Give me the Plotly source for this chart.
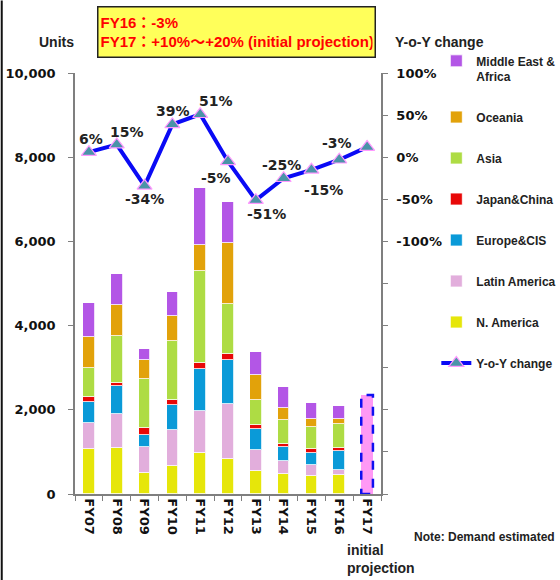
import plotly.graph_objects as go

categories = ["FY07", "FY08", "FY09", "FY10", "FY11", "FY12", "FY13", "FY14", "FY15", "FY16", "FY17"]
actual_years = categories[:10]

n_america = [1060, 1090, 490, 660, 980, 840, 540, 475, 420, 450]
latin_america = [630, 800, 620, 870, 1000, 1290, 505, 310, 270, 125]
europe_cis = [505, 675, 285, 585, 980, 1050, 500, 340, 275, 445]
japan_china = [110, 65, 165, 125, 160, 140, 95, 65, 95, 80]
asia = [695, 1130, 1165, 1385, 2185, 1205, 595, 570, 530, 560]
oceania = [730, 730, 460, 610, 600, 1440, 590, 285, 200, 110]
middle_east_africa = [815, 735, 260, 570, 1375, 975, 545, 490, 365, 310]
fy17_projection = 2350

yoy_change = [6, 15, -34, 39, 51, -5, -51, -25, -15, -3, 12]
yoy_labels = ["6%", "15%", "-34%", "39%", "51%", "-5%", "-51%", "-25%", "-15%", "-3%", ""]

left_ticks = [0, 2000, 4000, 6000, 8000, 10000]
right_ticks = [-400, -350, -300, -250, -200, -150, -100, -50, 0, 50, 100]
right_ticktext = ["", "", "", "", "", "", "-100%", "-50%", "0%", "50%", "100%"]

series = [
    ("N. America", n_america, "#E6E60A", 7),
    ("Latin America", latin_america, "#E2AEDC", 6),
    ("Europe&CIS", europe_cis, "#0A9AD8", 5),
    ("Japan&China", japan_china, "#E80808", 4),
    ("Asia", asia, "#AEDC44", 3),
    ("Oceania", oceania, "#E2A20A", 2),
    ("Middle East &<br>Africa", middle_east_africa, "#B356E6", 1),
]

BW = 0.42
PW, PH = 307, 421.5
ML, MT = 74.5, 72.5
xs = list(range(len(actual_years)))
narrow = "Liberation Sans Narrow, Arial Narrow, Liberation Sans, Arial"
legend_font = dict(family=narrow, size=12, color="#222", weight="bold")


def px_x(p):
    return (p - ML) / PW


def px_y(p):
    return 1 - (p - MT) / PH


fig = go.Figure()
for name, vals, color, rank in series:
    fig.add_trace(go.Bar(
        x=xs, y=vals, name=name, width=BW,
        marker=dict(color=color, line=dict(color="rgba(255,255,255,0.8)", width=1)),
        legendrank=rank, legendgroup=name,
    ))

i17 = categories.index("FY17")
fig.add_trace(go.Bar(
    x=[i17], y=[fy17_projection], width=BW, showlegend=False,
    marker=dict(color="#FF99F5", line=dict(width=0)),
))

fig.add_trace(go.Scatter(
    x=list(range(len(categories))), y=yoy_change, yaxis="y2", name="Y-o-Y change",
    mode="lines+markers",
    line=dict(color="#0A0AF5", width=4, dash="solid"),
    marker=dict(symbol="triangle-up", size=13, color="#4A94A8", line=dict(color="#FF99FF", width=1.2)),
    legendrank=8, legendgroup="yoy", showlegend=True,
))

fig.add_trace(go.Scatter(
    x=[i17 - BW / 2, i17 + BW / 2, i17 + BW / 2, i17 - BW / 2, i17 - BW / 2],
    y=[0, 0, fy17_projection, fy17_projection, 0],
    mode="lines", line=dict(color="#1010F0", width=2.5, dash="dash"),
    showlegend=False, hoverinfo="skip",
))

offsets = [(2, -13), (10, -13), (0, 13), (1, -13), (16, -13), (-12, 17), (11, 14), (-2, -13), (12, 20), (-2, -17), (0, 0)]
for i, (lab, v) in enumerate(zip(yoy_labels, yoy_change)):
    if not lab:
        continue
    dx, dy = offsets[i]
    fig.add_annotation(x=i, y=v, xref="x", yref="y2", text=lab, showarrow=False,
                       xshift=dx, yshift=-dy,
                       font=dict(family="DejaVu Sans, Verdana", size=14, color="#222", weight="bold"))

axis_font = dict(family="DejaVu Sans, Verdana", size=13, color="#111", weight="bold")
fig.update_layout(
    width=560, height=580,
    margin=dict(l=ML, r=560 - ML - PW, t=MT, b=580 - MT - PH, autoexpand=False),
    paper_bgcolor="white", plot_bgcolor="white",
    barmode="stack", bargap=0,
    showlegend=True,
    legend=dict(x=px_x(437), y=px_y(46), xanchor="left", yanchor="top", font=legend_font,
                tracegroupgap=22, valign="top", bgcolor="rgba(0,0,0,0)", itemwidth=30,
                maxheight=560),
    xaxis=dict(
        range=[-0.5, len(categories) - 0.5],
        tickmode="array", tickvals=list(range(len(categories))), ticktext=categories,
        tickangle=90, ticks="", showgrid=False, zeroline=False,
        showline=True, linecolor="#7f7f7f", linewidth=1.5,
        tickfont=axis_font,
        minor=dict(tickmode="linear", tick0=0.5, dtick=1, ticks="outside", ticklen=5, tickcolor="#7f7f7f", showgrid=False),
    ),
    yaxis=dict(
        range=[0, 10000], tickmode="array", tickvals=left_ticks, tickformat=",",
        ticks="outside", ticklen=5, tickcolor="#7f7f7f",
        showline=True, linecolor="#7f7f7f", linewidth=1.5, showgrid=False, zeroline=False,
        tickfont=axis_font, ticklabelstandoff=10,
    ),
    yaxis2=dict(
        overlaying="y", side="right", range=[-400, 100],
        tickmode="array", tickvals=right_ticks, ticktext=right_ticktext,
        ticks="outside", ticklen=5, tickcolor="#7f7f7f",
        showline=True, linecolor="#7f7f7f", linewidth=1.5, showgrid=False, zeroline=False,
        tickfont=axis_font, ticklabelstandoff=6,
    ),
)

fig.add_annotation(xref="paper", yref="paper", x=px_x(97), y=px_y(5),
                   xanchor="left", yanchor="top", showarrow=False, align="left",
                   text="FY16：-3%<br>FY17：+10%～+20% (initial projection)",
                   width=272, height=45,
                   bgcolor="#FFFF5A", bordercolor="#222", borderwidth=1.5, borderpad=2,
                   font=dict(family="Liberation Sans, Noto Sans CJK JP", size=15, color="#FF0000", weight="bold"))

fig.add_annotation(xref="paper", yref="paper", x=px_x(56), y=px_y(41),
                   xanchor="center", yanchor="middle", showarrow=False, text="Units",
                   font=dict(family=narrow, size=14, color="#222", weight="bold"))
fig.add_annotation(xref="paper", yref="paper", x=px_x(394), y=px_y(41),
                   xanchor="left", yanchor="middle", showarrow=False, text="Y-o-Y change",
                   font=dict(family=narrow, size=14, color="#222", weight="bold"))
fig.add_annotation(xref="paper", yref="paper", x=px_x(345), y=px_y(540),
                   xanchor="left", yanchor="top", showarrow=False, align="left",
                   text="initial<br>projection",
                   font=dict(family=narrow, size=14, color="#222", weight="bold"))
fig.add_annotation(xref="paper", yref="paper", x=px_x(558), y=px_y(537),
                   xanchor="right", yanchor="middle", showarrow=False,
                   text="Note: Demand estimated",
                   font=dict(family=narrow, size=12, color="#222", weight="bold"))

fig.add_shape(type="line", xref="paper", yref="paper",
              x0=px_x(1), x1=px_x(1), y0=px_y(580), y1=px_y(0),
              line=dict(color="#111", width=2))

fig.write_html("out.html", config={"displayModeBar": False},
               post_script="document.body.style.margin='0';document.body.style.overflow='hidden';")
